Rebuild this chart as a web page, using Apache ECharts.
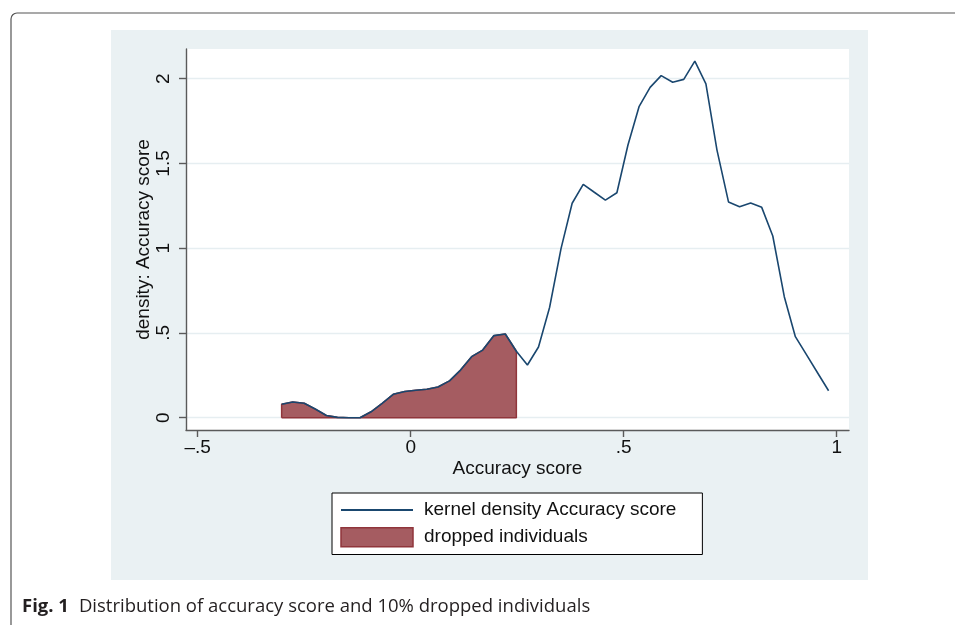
<!DOCTYPE html>
<html>
<head>
<meta charset="utf-8">
<script src="https://cdn.jsdelivr.net/npm/echarts@6/dist/echarts.min.js"></script>
<style>
html,body{margin:0;padding:0;background:#fff;}
#c{width:955px;height:625px;}
</style>
</head>
<body>
<div id="c"></div>
<script>
// Evaluation points of the kernel density (Accuracy score)
const accuracyScore = [-0.303,-0.277,-0.250,-0.224,-0.198,-0.172,-0.145,-0.119,-0.093,-0.067,
  -0.041,-0.014,0.012,0.038,0.064,0.091,0.117,0.143,0.169,0.195,
  0.222,0.248,0.274,0.300,0.326,0.353,0.379,0.405,0.431,0.457,
  0.484,0.510,0.536,0.562,0.588,0.615,0.641,0.667,0.693,0.719,
  0.746,0.772,0.798,0.824,0.850,0.877,0.903,0.929,0.955,0.981];
// Density values
const densityValues = [0.079,0.093,0.085,0.051,0.013,0.002,0.000,0.000,0.035,0.085,
  0.138,0.155,0.162,0.168,0.181,0.217,0.281,0.360,0.399,0.484,
  0.494,0.392,0.311,0.417,0.650,0.999,1.265,1.377,1.330,1.284,
  1.327,1.609,1.835,1.949,2.018,1.979,1.996,2.104,1.969,1.579,
  1.273,1.245,1.267,1.241,1.072,0.714,0.478,0.372,0.265,0.159];
// Individuals dropped: accuracy score up to this cutoff
const dropCutoff = 0.248;

const xTicks = [-0.5, 0, 0.5, 1];
const xTickLabels = ['\u2013.5', '0', '.5', '1'];
const yTicks = [0, 0.5, 1, 1.5, 2];
const yTickLabels = ['0', '.5', '1', '1.5', '2'];

const seriesNames = ['kernel density Accuracy score', 'dropped individuals'];
const xTitle = 'Accuracy score';
const yTitle = 'density: Accuracy score';
const captionBold = 'Fig. 1';
const captionText = 'Distribution of accuracy score and 10% dropped individuals';

const NAVY = '#1a476f';
const MAROON = '#90353b';
const MAROON_FILL = '#a55c61';
const AXIS = '#5a5a5a';
const FONT = "'Liberation Sans', Arial, Helvetica, sans-serif";

const densityPoints = accuracyScore.map((x, i) => [x, densityValues[i]]);
const dropped = densityPoints.filter(p => p[0] <= dropCutoff + 1e-9);
const droppedOutline = [[dropped[0][0], 0]].concat(dropped, [[dropped[dropped.length - 1][0], 0], [dropped[0][0], 0]]);

function lookup(ticks, labels, v) {
  const i = ticks.findIndex(t => Math.abs(t - v) < 1e-9);
  return i >= 0 ? labels[i] : '';
}

const chart = echarts.init(document.getElementById('c'), null, {renderer: 'canvas'});
chart.setOption({
  animation: false,
  backgroundColor: '#ffffff',
  graphic: [
    {type: 'rect', z: -20, shape: {x: 11, y: 13, width: 990, height: 660, r: 6},
     style: {fill: '#ffffff', stroke: '#555555', lineWidth: 1.2}},
    {type: 'rect', z: -10, shape: {x: 111, y: 30, width: 757, height: 550},
     style: {fill: '#eaf1f3'}}
  ],
  title: {
    left: 22, top: 597, padding: 0,
    text: '{b|' + captionBold + '}  {n|' + captionText + '}',
    textStyle: {
      fontWeight: 'normal',
      rich: {
        b: {fontFamily: "'Open Sans', sans-serif", fontWeight: 'bold', fontSize: 18.5, color: '#231f20'},
        n: {fontFamily: "'Open Sans', sans-serif", fontWeight: 'normal', fontSize: 18.5, color: '#231f20'}
      }
    }
  },
  grid: {left: 186, top: 49, width: 663, height: 381, show: true, backgroundColor: '#ffffff', borderWidth: 0, containLabel: false},
  xAxis: {
    type: 'value', min: -0.5275, max: 1.0289,
    name: xTitle, nameLocation: 'middle', nameGap: 29, nameMoveOverlap: false,
    nameTextStyle: {fontSize: 19, fontFamily: FONT, color: '#111'},
    axisLine: {show: true, onZero: false, lineStyle: {color: AXIS, width: 1.4}},
    axisTick: {show: true, customValues: xTicks, length: 7, lineStyle: {color: AXIS, width: 1.4}},
    axisLabel: {customValues: xTicks, formatter: v => lookup(xTicks, xTickLabels, v),
      fontSize: 19, fontFamily: FONT, color: '#111', margin: 8},
    splitLine: {show: false}
  },
  yAxis: {
    type: 'value', min: -0.0726, max: 2.1752,
    name: yTitle, nameLocation: 'middle', nameGap: 33, nameMoveOverlap: false,
    nameTextStyle: {fontSize: 19, fontFamily: FONT, color: '#111'},
    axisLine: {show: true, onZero: false, lineStyle: {color: AXIS, width: 1.4}},
    axisTick: {show: true, customValues: yTicks, length: 7, lineStyle: {color: AXIS, width: 1.4}},
    axisLabel: {customValues: yTicks, formatter: v => lookup(yTicks, yTickLabels, v), rotate: 90,
      fontSize: 19, fontFamily: FONT, color: '#111', margin: 13},
    splitLine: {show: true, lineStyle: {color: '#e6eef1', width: 1.3}}
  },
  legend: {
    left: 332, top: 493, orient: 'vertical',
    itemWidth: 72, itemHeight: 19, itemGap: 7.5,
    padding: [7.5, 26, 7, 8],
    borderColor: '#000', borderWidth: 1, backgroundColor: '#fff', borderRadius: 0,
    selectedMode: false,
    textStyle: {fontSize: 19, fontFamily: FONT, color: '#111', padding: [0, 0, 0, 6]},
    data: [
      {name: seriesNames[0], itemStyle: {color: 'rgba(0,0,0,0)', borderColor: 'rgba(0,0,0,0)', borderWidth: 0, opacity: 0}},
      {name: seriesNames[1], icon: 'rect', itemStyle: {color: MAROON_FILL, borderColor: MAROON, borderWidth: 1.5}}
    ]
  },
  series: [
    {
      name: seriesNames[0], type: 'line', data: densityPoints,
      showSymbol: false, symbol: 'none', z: 5,
      lineStyle: {color: NAVY, width: 1.6}, itemStyle: {color: NAVY}
    },
    {
      name: seriesNames[1], type: 'line', data: droppedOutline,
      showSymbol: false, symbol: 'none', z: 3,
      lineStyle: {color: MAROON, width: 1.5}, itemStyle: {color: MAROON_FILL, borderColor: MAROON},
      areaStyle: {color: MAROON_FILL, opacity: 1}
    }
  ]
});
</script>
</body>
</html>
